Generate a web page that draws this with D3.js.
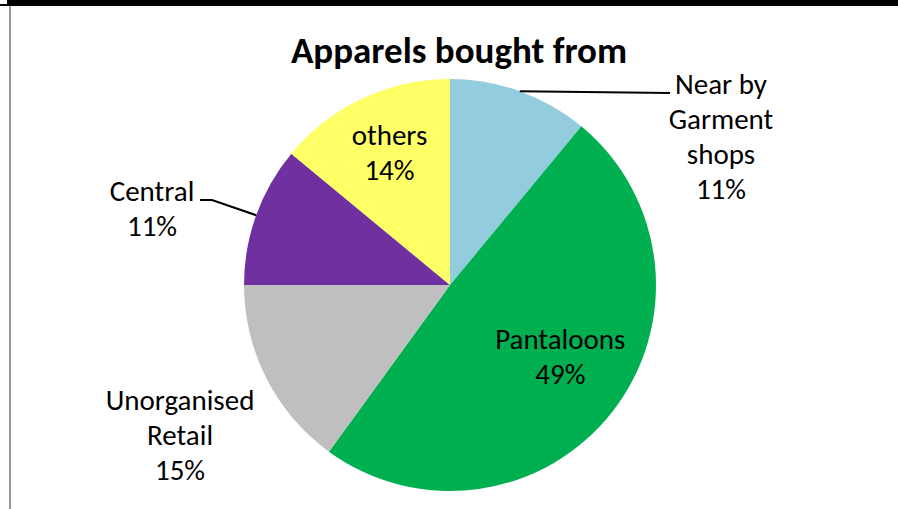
<!DOCTYPE html>
<html>
<head>
<meta charset="utf-8">
<script src="https://cdn.jsdelivr.net/npm/d3@7"></script>
<style>
  body { margin: 0; background: #fff; }
  text { font-family: Carlito, "Open Sans", sans-serif; fill: #000; }
</style>
</head>
<body>
<div id="chart-area"></div>
<script>
// chart values
const categories = ["Near by Garment shops", "Pantaloons", "Unorganised Retail", "Central", "others"];
const labelLines = [["Near by", "Garment", "shops"], ["Pantaloons"], ["Unorganised", "Retail"], ["Central"], ["others"]];
const shares = [11, 49, 15, 11, 14];
const colors = ["#93CDDD", "#00B050", "#BFBFBF", "#7030A0", "#FFFF66"];

const WIDTH = 898, HEIGHT = 509;
const CX = 450, CY = 285, R = 206;

const svg = d3.select("#chart-area").append("svg")
    .attr("width", WIDTH)
    .attr("height", HEIGHT)

// frame: thick black top and grey left edge
svg.append("rect").attr("x", 7).attr("y", 0).attr("width", WIDTH - 7).attr("height", 6).attr("fill", "#000")
svg.append("rect").attr("x", 0).attr("y", 4).attr("width", 8).attr("height", 2).attr("fill", "#000")
svg.append("rect").attr("x", 9).attr("y", 6).attr("width", 2).attr("height", HEIGHT - 6).attr("fill", "#9a9a9a")

svg.append("text")
    .attr("x", 459)
    .attr("y", 63)
    .attr("text-anchor", "middle")
    .attr("font-size", 37)
    .attr("font-weight", "bold")
    .text("Apparels bought from")

const data = categories.map((c, i) => ({ name: c, lines: labelLines[i], value: shares[i], color: colors[i] }))

const pie = d3.pie().value(d => d.value).sort(null)
const arc = d3.arc().innerRadius(0).outerRadius(R)
const arcs = pie(data)

const g = svg.append("g").attr("transform", `translate(${CX}, ${CY})`)

g.selectAll("path")
    .data(arcs)
    .enter().append("path")
    .attr("d", arc)
    .attr("fill", d => d.data.color)

// point on the rim at slice middle
const rim = d => {
    const a = (d.startAngle + d.endAngle) / 2
    return [R * Math.sin(a), -R * Math.cos(a)]
}

// label placement (relative to pie centre): inside labels use an inner arc plus a nudge,
// outside ones sit at a fixed spot with a leader back to the rim
const insideArc = d3.arc().innerRadius(R * 0.69).outerRadius(R * 0.69)
const labelPos = {
    "Near by Garment shops": { x: 271, y: -148, leader: [[220, -192]] },
    "Pantaloons": { nudge: [-2, -15] },
    "Unorganised Retail": { x: -270, y: 150 },
    "Central": { x: -298, y: -76, leader: [[-238, -85], [-250, -85]] },
    "others": { nudge: [0, -3] }
}
const LINE = 35, FS = 29

arcs.forEach(d => {
    const lines = d.data.lines.concat([d.data.value + "%"])
    let x, y
    const p = labelPos[d.data.name]
    if (p.nudge) {
        [x, y] = insideArc.centroid(d)
        x += p.nudge[0]; y += p.nudge[1]
    } else {
        x = p.x; y = p.y
        if (p.leader) {
            const pts = [rim(d)].concat(p.leader)
            g.append("path")
                .attr("d", d3.line()(pts))
                .attr("fill", "none")
                .attr("stroke", "#000")
                .attr("stroke-width", 2)
        }
    }
    const t = g.append("text")
        .attr("text-anchor", "middle")
        .attr("font-size", FS)
    lines.forEach((l, i) => {
        t.append("tspan")
            .attr("x", x)
            .attr("y", y + (i - (lines.length - 1) / 2) * LINE + FS * 0.33)
            .text(l)
    })
})
</script>
</body>
</html>
